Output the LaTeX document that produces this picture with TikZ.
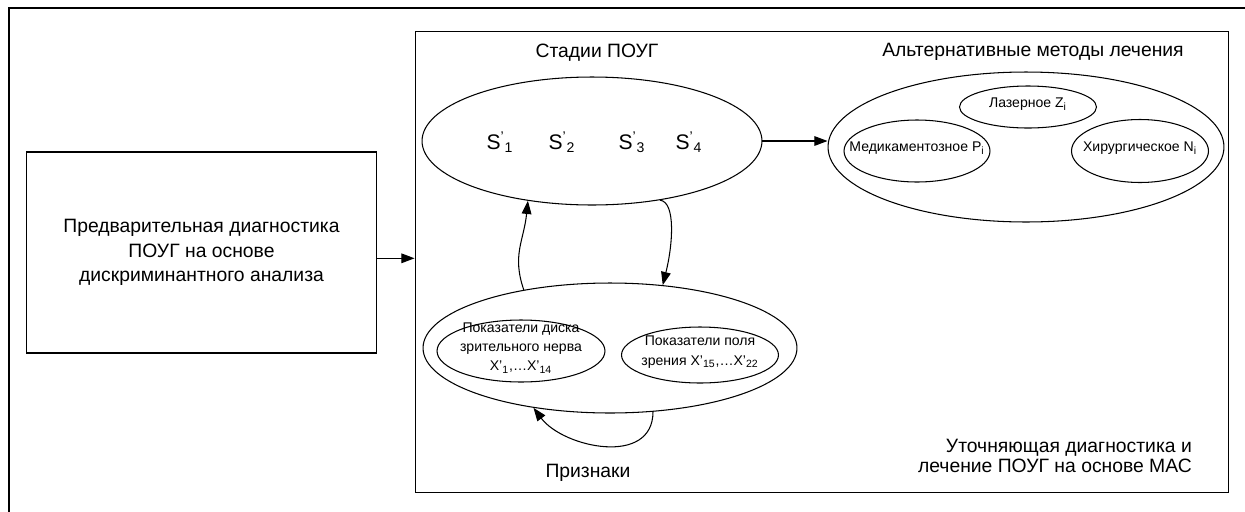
\documentclass[tikz,border=0pt]{standalone}
\usepackage{fontspec}
\setmainfont{Liberation Sans}
\usetikzlibrary{positioning,arrows.meta,shapes.geometric}
\newcommand{\ovaltext}[1]{\makebox[0pt]{\smash{\begin{tabular}{@{}c@{}}#1\end{tabular}}}}

\begin{document}
\begin{tikzpicture}[
    x=0.02cm, y=-0.02cm,
    every node/.style={font=\fontsize{11}{14}\selectfont},
    block/.style={draw, line width=0.6pt, align=center, inner sep=0pt},
    oval/.style={draw, ellipse, line width=0.6pt, inner sep=0pt},
    small/.style={font=\fontsize{8}{11}\selectfont},
    stagetxt/.style={font=\fontsize{12}{14}\selectfont, inner sep=0pt},
    arrow/.style={-{Triangle[length=7.5pt,width=5.5pt]}, line width=0.6pt}
]
\useasboundingbox (0,0) rectangle (1245,511);
\clip (0,0) rectangle (1245,511);
\draw[line width=1pt] (9,8) rectangle (1300,560);

\node[block, minimum width=7.02cm, minimum height=4.02cm] (prelim) at (201.5,252.5) {Предварительная диагностика\\ПОУГ на основе\\дискриминантного анализа};
\node[block, minimum width=16.28cm, minimum height=9.24cm] (mas) at (822,262) {};

\node (stagetitle) at (597,53) {Стадии ПОУГ};
\node (treattitle) at (1033,52) {Альтернативные методы лечения};
\node (signtitle) at (588,473) {Признаки};
\node[align=right, anchor=east, font=\fontsize{11}{11.5}\selectfont] (mastitle) at (1198,456) {Уточняющая диагностика и\\лечение ПОУГ на основе МАС};

% stages
\node[oval, minimum width=6.8cm, minimum height=2.56cm] (stages) at (592,141) {};
\node[stagetxt] (s1) at (500,142) {S\textsuperscript{'}\textsubscript{1}};
\node[stagetxt] (s2) at (562,142) {S\textsuperscript{'}\textsubscript{2}};
\node[stagetxt] (s3) at (632,142) {S\textsuperscript{'}\textsubscript{3}};
\node[stagetxt] (s4) at (689,142) {S\textsuperscript{'}\textsubscript{4}};

% treatment
\node[oval, minimum width=7.92cm, minimum height=3cm] (treat) at (1026,147) {};
\node[oval, small, minimum width=2.74cm, minimum height=0.84cm] (laser) at (1028,107) {\ovaltext{Лазерное Z\textsubscript{i}}};
\node[oval, small, minimum width=2.92cm, minimum height=1.24cm] (drug) at (917,151) {\ovaltext{Медикаментозное P\textsubscript{i}}};
\node[oval, small, minimum width=2.74cm, minimum height=1.26cm] (surg) at (1140,151) {\ovaltext{Хирургическое N\textsubscript{i}}};

% signs
\node[oval, minimum width=7.48cm, minimum height=2.6cm] (signs) at (610,348) {};
\node[oval, small, minimum width=3.36cm, minimum height=1.24cm] (disc) at (521,351) {\ovaltext{Показатели диска\\зрительного нерва\\X'\textsubscript{1},\ldots X'\textsubscript{14}}};
\node[oval, small, minimum width=3.14cm, minimum height=1.12cm] (field) at (700,355) {\ovaltext{Показатели поля\\зрения X'\textsubscript{15},\ldots X'\textsubscript{22}}};

\draw[arrow] ([yshift=-0.116cm]prelim.east) -- ([yshift=-0.116cm]prelim.east -| mas.west);
\draw[arrow] (stages.east) -- (stages.east -| treat.west);
\draw[arrow] (signs.146) .. controls +(-12,-35) and +(-4,40) .. (stages.223);
\draw[arrow] (stages.319) .. controls +(16,2) and +(10,-40) .. (signs.50);
\draw[arrow] (signs.304) .. controls +(0,55) and +(30,40) .. (signs.218);

\end{tikzpicture}
\end{document}
